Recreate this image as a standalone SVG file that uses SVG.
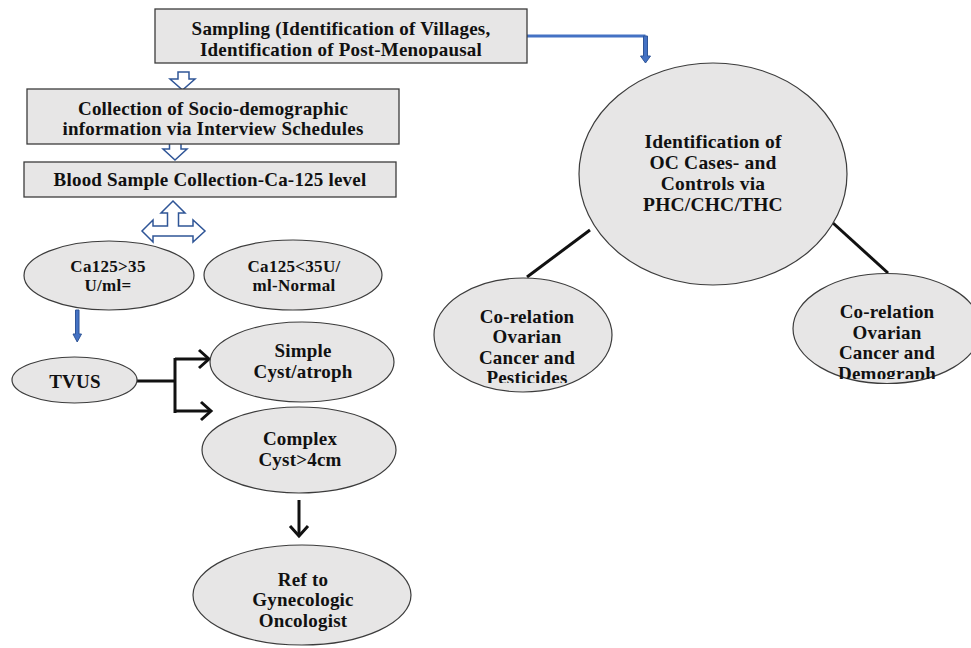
<svg xmlns="http://www.w3.org/2000/svg" width="971" height="648" viewBox="0 0 971 648">
<style>
.box{fill:#e7e6e6;stroke:#3c3c3c;stroke-width:1.3}
.ell{fill:#e7e6e6;stroke:#3c3c3c;stroke-width:1.2}
.t{font-family:"Liberation Serif","Times New Roman",serif;font-weight:bold;font-size:19px;letter-spacing:0.2px;fill:#111;text-anchor:middle}
.t16{font-size:17px;letter-spacing:0.3px}
.t19{font-size:19.5px;letter-spacing:0.2px}
.hollow{fill:#fff;stroke:#2f5597;stroke-width:1.5;stroke-linejoin:miter}
.blk{fill:#4472c4;stroke:#2f5597;stroke-width:1}
.bl{stroke:#111;stroke-width:3;fill:none}
.chev{stroke:#111;stroke-width:3;fill:none;stroke-linecap:butt;stroke-linejoin:miter}
</style>
<defs>
<clipPath id="cpS"><rect x="155" y="9" width="372" height="49"/></clipPath>
<clipPath id="cpP"><rect x="430" y="270" width="190" height="113"/></clipPath>
<clipPath id="cpD"><rect x="790" y="265" width="181" height="114"/></clipPath>
</defs>

<g id="connectors">
  <polyline points="527,36 645.5,36" fill="none" stroke="#4472c4" stroke-width="3"/>
  <polygon class="blk" points="643.5,36 647.5,36 647.5,56 650.5,56 645.5,63 640.5,56 643.5,56"/>
  <polygon class="hollow" points="178,72 189,72 189,79 195,79 182.5,90 170,79 178,79"/>
  <polygon class="hollow" points="169.5,143 181,143 181,149 187,149 175,160 163,149 169.5,149"/>
  <polygon class="hollow" points="173,201 185,213 178.5,213 178.5,226 193,226 193,220 205,231 193,242 193,236 153,236 153,242 142,231 153,220 153,226 167.5,226 167.5,213 161,213"/>
  <polygon class="blk" points="75.5,310 79,310 79,334 81.5,334 77.2,342 73,334 75.5,334"/>
  <line class="bl" x1="137" y1="381" x2="175" y2="381"/>
  <line class="bl" x1="175" y1="358" x2="175" y2="413"/>
  <line class="bl" x1="175" y1="359" x2="209" y2="359"/>
  <line class="bl" x1="175" y1="411" x2="211" y2="411"/>
  <polyline class="chev" points="199,350 209,359 199,368"/>
  <polyline class="chev" points="201,402 211,411 201,420"/>
  <line class="bl" x1="299" y1="500" x2="299" y2="535"/>
  <polyline class="chev" points="290,526 299,536 308,526"/>
  <line class="bl" x1="590" y1="230" x2="527" y2="277"/>
  <line class="bl" x1="833" y1="223" x2="888" y2="273"/>
</g>

<g id="sampling">
  <rect class="box" x="155" y="9" width="372" height="54"/>
  <g clip-path="url(#cpS)">
    <text class="t" x="341" y="35">Sampling (Identification of Villages,</text>
    <text class="t" x="341" y="56">Identification of Post-Menopausal</text>
  </g>
</g>

<g id="collection">
  <rect class="box" x="27" y="89" width="372" height="55"/>
  <text class="t" x="213" y="115">Collection of Socio-demographic</text>
  <text class="t" x="213" y="135">information via Interview Schedules</text>
</g>

<g id="blood">
  <rect class="box" x="24" y="162" width="372" height="35"/>
  <text class="t" x="210" y="186">Blood Sample Collection-Ca-125 level</text>
</g>

<g id="ca-high">
  <ellipse class="ell" cx="109" cy="275.5" rx="85" ry="34.5"/>
  <text class="t t16" x="108" y="272">Ca125&gt;35</text>
  <text class="t t16" x="108" y="291">U/ml=</text>
</g>

<g id="ca-normal">
  <ellipse class="ell" cx="293" cy="275" rx="89" ry="35"/>
  <text class="t t16" x="294" y="272">Ca125&lt;35U/</text>
  <text class="t t16" x="294" y="291">ml-Normal</text>
</g>

<g id="tvus">
  <ellipse class="ell" cx="74.5" cy="380" rx="62.5" ry="23"/>
  <text class="t" x="75" y="388">TVUS</text>
</g>

<g id="simple">
  <ellipse class="ell" cx="302" cy="362" rx="92" ry="40"/>
  <text class="t" x="303" y="357">Simple</text>
  <text class="t" x="303" y="378">Cyst/atroph</text>
</g>

<g id="complex">
  <ellipse class="ell" cx="299" cy="450" rx="97" ry="43"/>
  <text class="t" x="300" y="445">Complex</text>
  <text class="t" x="300" y="466">Cyst&gt;4cm</text>
</g>

<g id="ref">
  <ellipse class="ell" cx="302" cy="595" rx="109" ry="50"/>
  <text class="t" x="303" y="586">Ref to</text>
  <text class="t" x="303" y="606">Gynecologic</text>
  <text class="t" x="303" y="627">Oncologist</text>
</g>

<g id="identification">
  <ellipse class="ell" cx="713" cy="174" rx="134" ry="111"/>
  <text class="t t19" x="713" y="148">Identification of</text>
  <text class="t t19" x="713" y="169">OC Cases- and</text>
  <text class="t t19" x="713" y="190">Controls via</text>
  <text class="t t19" x="713" y="211">PHC/CHC/THC</text>
</g>

<g id="pesticides">
  <ellipse class="ell" cx="523" cy="335" rx="89" ry="57"/>
  <g clip-path="url(#cpP)">
    <text class="t" x="527" y="323">Co-relation</text>
    <text class="t" x="527" y="343">Ovarian</text>
    <text class="t" x="527" y="364">Cancer and</text>
    <text class="t" x="527" y="384">Pesticides</text>
  </g>
</g>

<g id="demograph">
  <ellipse class="ell" cx="887" cy="328.5" rx="94" ry="55"/>
  <g clip-path="url(#cpD)">
    <text class="t" x="887" y="318">Co-relation</text>
    <text class="t" x="887" y="339">Ovarian</text>
    <text class="t" x="887" y="359">Cancer and</text>
    <text class="t" x="887" y="380">Demograph</text>
  </g>
</g>
</svg>
